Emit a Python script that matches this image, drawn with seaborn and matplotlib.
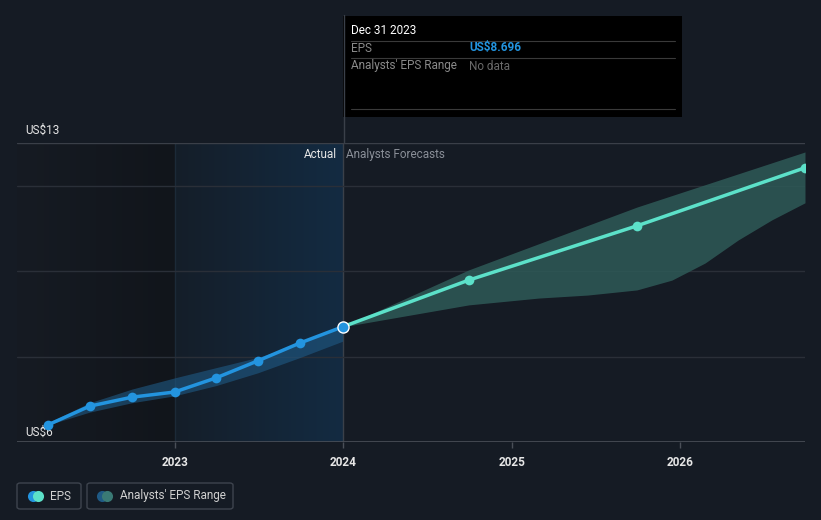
import numpy as np
import pandas as pd
import matplotlib.pyplot as plt
import matplotlib.dates as mdates
from matplotlib.patches import FancyBboxPatch, Rectangle
import seaborn as sns

# data
past_dates = ['2022-03-31', '2022-06-30', '2022-09-30', '2022-12-31',
              '2023-03-31', '2023-06-30', '2023-09-30', '2023-12-31']
past_eps = [6.40, 6.84, 7.05, 7.17, 7.50, 7.90, 8.32, 8.696]
past_low = [6.40, 6.70, 6.92, 7.08, 7.32, 7.62, 7.98, 8.36]
past_high = [6.45, 6.92, 7.24, 7.50, 7.74, 7.98, 8.30, 8.72]

fc_dates = ['2023-12-31', '2024-09-30', '2025-09-30', '2026-09-30']
fc_eps = [8.696, 9.79, 11.06, 12.42]
fc_high = [8.696, 10.03, 11.50, 12.79]
fc_low_dates = ['2023-12-31', '2024-09-30', '2025-03-01', '2025-06-15', '2025-09-30',
                '2025-12-15', '2026-02-25', '2026-05-08', '2026-07-20', '2026-09-30']
fc_low_curve = [8.696, 9.21, 9.37, 9.44, 9.56, 9.79, 10.19, 10.73, 11.20, 11.60]

y_labels = ['US$6', 'US$13']
year_ticks = ['2023', '2024', '2025', '2026']

past = pd.DataFrame({'date': pd.to_datetime(past_dates), 'eps': past_eps,
                     'low': past_low, 'high': past_high})
fc = pd.DataFrame({'date': pd.to_datetime(fc_dates), 'eps': fc_eps})
fc_band = pd.DataFrame({'date': pd.to_datetime(fc_low_dates), 'low': fc_low_curve})

BG = '#151b24'
BLUE = '#2394df'
MINT = '#5ce1c9'

sns.set_style('dark')
plt.rcParams['font.family'] = ['Roboto', 'DejaVu Sans']

fig = plt.figure(figsize=(8.21, 5.2), dpi=100, facecolor=BG)
ax = fig.add_axes([17/821, 78/520, 788/821, 299/520])
ax.set_facecolor(BG)

xmin = mdates.date2num(pd.Timestamp('2022-01-23'))
xmax = mdates.date2num(pd.Timestamp('2026-09-30'))
x23 = mdates.date2num(pd.Timestamp('2023-01-01'))
x24 = mdates.date2num(pd.Timestamp('2023-12-31'))

# shaded background regions
grad = np.linspace(0, 1, 256).reshape(1, -1)
ax.imshow(grad, extent=[xmin, x23, 6, 13], aspect='auto', zorder=0,
          cmap=sns.blend_palette(['#161b23', '#11151b'], as_cmap=True))
ax.imshow(grad, extent=[x23, x24, 6, 13], aspect='auto', zorder=0,
          cmap=sns.blend_palette(['#151e29', '#132b42'], as_cmap=True))
ax.axvline(x23, color='#1c2a38', lw=1, zorder=1)
ax.axvline(x24, color='#3a4049', lw=1, zorder=1)

# grid lines
for g in [8, 10, 12]:
    ax.axhline(g, color='#2a2f38', lw=1, zorder=1)
ax.axhline(13, color='#3a3f48', lw=1, zorder=1)
ax.axhline(6, color='#4a4f58', lw=1.2, zorder=1)

# analyst ranges
upper_interp = np.interp(mdates.date2num(fc_band['date']),
                         mdates.date2num(fc['date']), fc_high)
ax.fill_between(past['date'], past['low'], past['high'], color='#1f5a85', alpha=0.6,
                lw=0, zorder=2)
ax.fill_between(fc_band['date'], fc_band['low'], upper_interp, color='#2e5a57',
                alpha=0.85, lw=0, zorder=2)

# EPS lines
sns.lineplot(data=past, x='date', y='eps', color=BLUE, lw=2.5, marker='o',
             markersize=7, markeredgewidth=0, ax=ax, zorder=4)
sns.lineplot(data=fc, x='date', y='eps', color=MINT, lw=2.5, marker='o',
             markersize=7, markeredgewidth=0, ax=ax, zorder=3)
ax.plot(past['date'].iloc[-1], past['eps'].iloc[-1], 'o', color=BLUE, ms=8,
        mec='white', mew=1, zorder=5)

ax.set_xlim(xmin, xmax)
ax.set_ylim(6, 13)
ax.set_xlabel('')
ax.set_ylabel('')
ax.set_yticks([])
ax.set_xticks([mdates.date2num(pd.Timestamp(y + '-01-01')) for y in year_ticks])
ax.set_xticklabels(year_ticks)
ax.tick_params(axis='x', colors='#4a4f58', length=4, width=1, pad=6,
               labelcolor='#e6e6e6', labelsize=8.5, bottom=True)
for lab in ax.get_xticklabels():
    lab.set_fontweight('bold')
for s in ax.spines.values():
    s.set_visible(False)
ax.grid(False)

# y labels
ax.text(0.01, 1.02, y_labels[1], transform=ax.transAxes, color='#e6e6e6',
        fontsize=8.5, va='bottom')
ax.text(0.01, 0.01, y_labels[0], transform=ax.transAxes, color='#e6e6e6',
        fontsize=8.5, va='bottom')

ax.text(x24 - 12, 12.73, 'Actual', color='#e6e6e6', fontsize=8.5, ha='right', va='center')
ax.text(x24 + 8, 12.73, 'Analysts Forecasts', color='#8a8f98', fontsize=8.5,
        ha='left', va='center')

# tooltip vertical line and box
fig.add_artist(plt.Line2D([344/821, 344/821], [377/520, 505/520], color='#3a4049', lw=1))
fig.add_artist(Rectangle((343/821, 403/520), 339/821, 101/520, facecolor='black',
                         edgecolor='none'))
for yy in [479, 462, 411]:
    fig.add_artist(plt.Line2D([351/821, 675/821], [yy/520, yy/520], color='#3a3a3a', lw=0.8))
fig.text(351/821, 489/520, 'Dec 31 2023', color='white', fontsize=8.5, va='center')
fig.text(351/821, 472/520, 'EPS', color='#8a8a8a', fontsize=8.5, va='center')
fig.text(469/821, 472/520, 'US$8.696', color=BLUE, fontsize=8.5, va='center',
         fontweight='bold')
fig.text(351/821, 454/520, "Analysts' EPS Range", color='#8a8a8a', fontsize=8.5, va='center')
fig.text(469/821, 454/520, 'No data', color='#6a6a6a', fontsize=8.5, va='center')

# legend boxes
for x0, w in [(17, 64), (87, 146)]:
    fig.add_artist(FancyBboxPatch((x0/821, 11/520), w/821, 26/520,
                                  boxstyle='round,pad=0,rounding_size=0.004',
                                  facecolor=BG, edgecolor='#3e444e', lw=1))
for cx, col in [(33, BLUE), (38, MINT), (102, '#1f5a85'), (107, '#3a7a75')]:
    fig.add_artist(plt.Line2D([cx/821], [24/520], marker='o', ms=8, color=col, mew=0))
fig.text(50/821, 24/520, 'EPS', color='#d0d0d0', fontsize=8.5, va='center')
fig.text(120/821, 24/520, "Analysts' EPS Range", color='#d0d0d0', fontsize=8.5, va='center')

fig.savefig('out.png', dpi=100, facecolor=BG)
